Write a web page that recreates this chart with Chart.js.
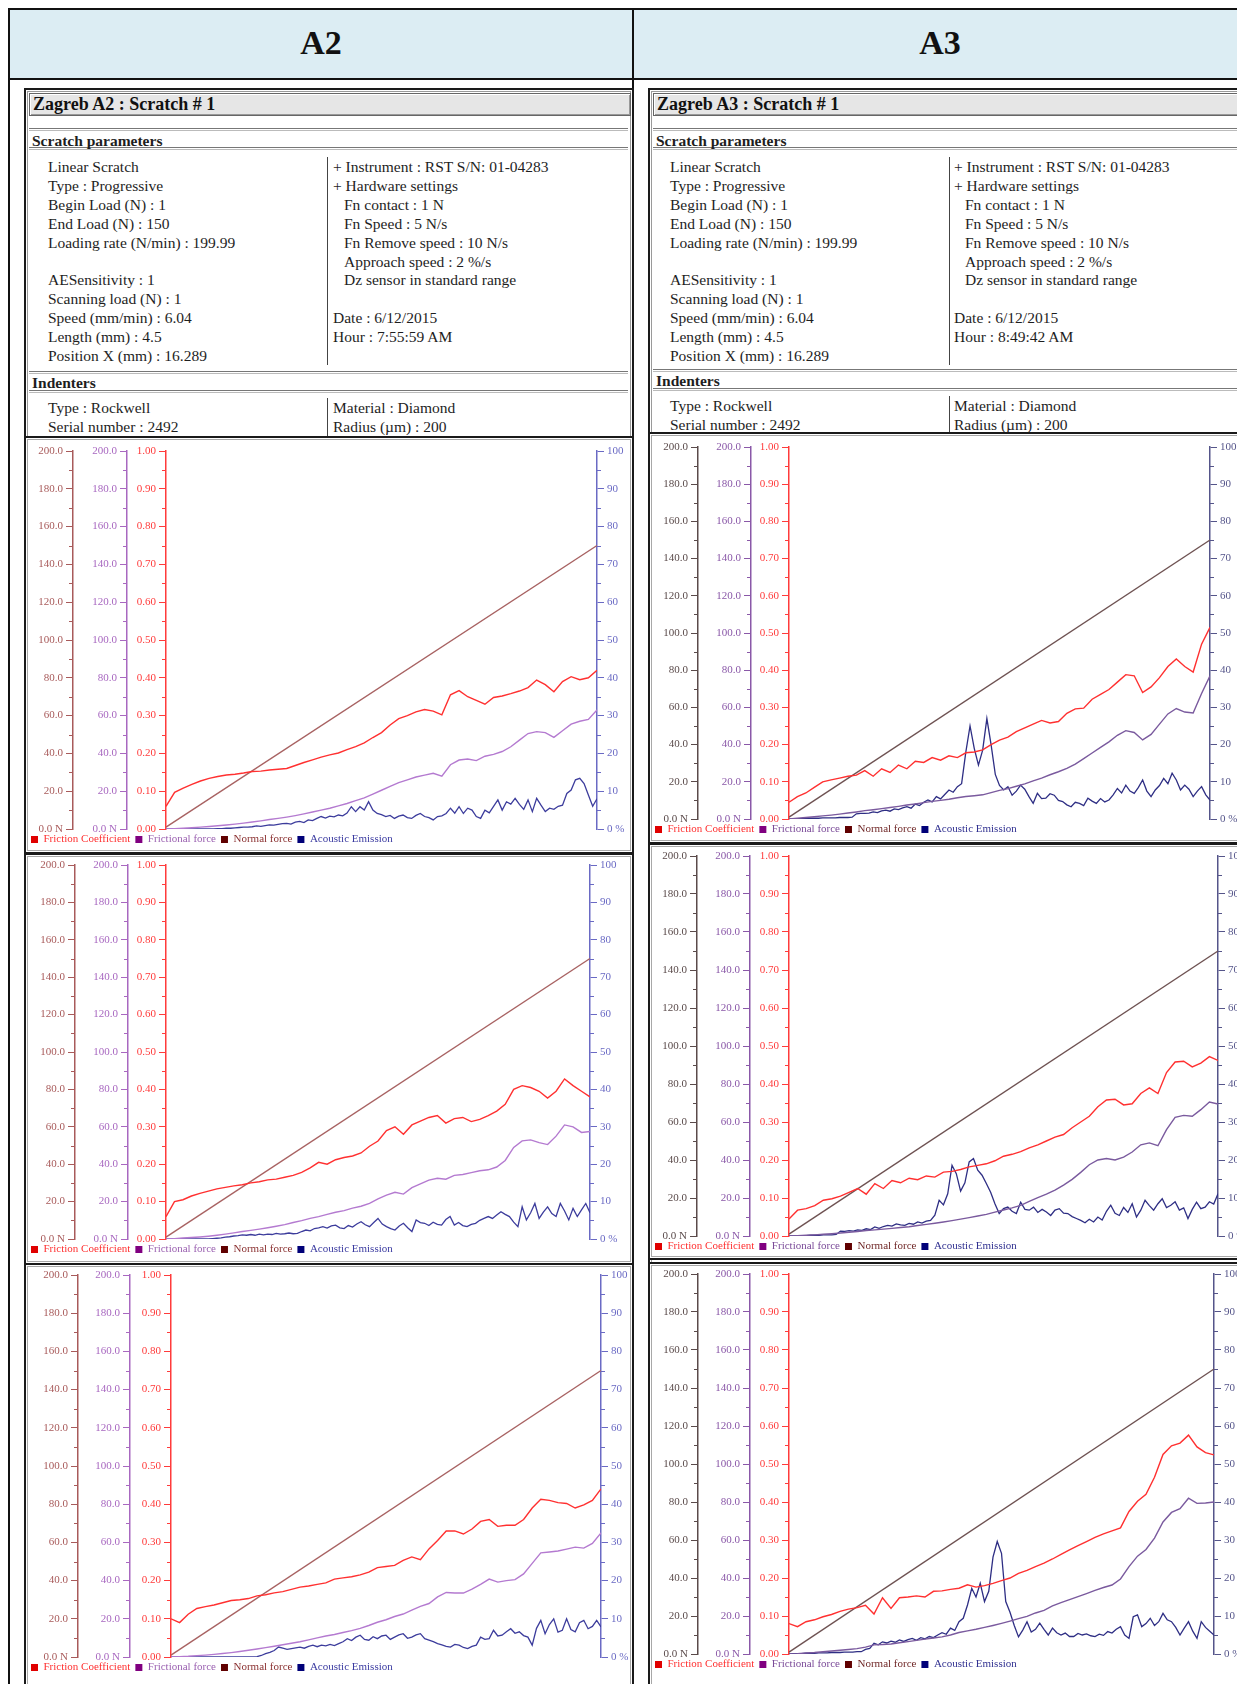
<!DOCTYPE html>
<html>
<head>
<meta charset="utf-8">
<script src="https://cdn.jsdelivr.net/npm/chart.js@4.4.0/dist/chart.umd.min.js"></script>
<style>
html, body { margin: 0; padding: 0; }
body { width: 1237px; height: 1684px; overflow: hidden; position: relative; background: #fff;
  font-family: 'Liberation Serif', 'Times New Roman', serif; color: #1e1e1e; }
#page { position: absolute; left: 0; top: 0; width: 1237px; height: 1684px; overflow: hidden; }
#page div { position: absolute; white-space: nowrap; }
#page canvas { position: absolute; }
</style>
</head>
<body>
<div id="page"></div>
<script>
// scan position along the scratch, % of length
const scanPos = [0,2,4,6,8,10,12,14,16,18,20,22,24,26,28,30,32,34,36,38,40,42,44,46,48,50,52,54,56,58,60,62,64,66,68,70,72,74,76,78,80,82,84,86,88,90,92,94,96,98,100];
const aePos = [0,1,2,3,4,5,6,7,8,9,10,11,12,13,14,15,16,17,18,19,20,21,22,23,24,25,26,27,28,29,30,31,32,33,34,35,36,37,38,39,40,41,42,43,44,45,46,47,48,49,50,51,52,53,54,55,56,57,58,59,60,61,62,63,64,65,66,67,68,69,70,71,72,73,74,75,76,77,78,79,80,81,82,83,84,85,86,87,88,89,90,91,92,93,94,95,96,97,98,99,100];
const loadPos = [0, 100];
const normalLoad = [1, 150];

// A2 scratch 1
const a2Mu1 = [0.06,0.097,0.108,0.118,0.127,0.134,0.139,0.143,0.145,0.148,0.152,0.153,0.156,0.158,0.16,0.168,0.176,0.183,0.19,0.196,0.201,0.21,0.218,0.228,0.242,0.255,0.275,0.292,0.3,0.31,0.316,0.312,0.302,0.355,0.366,0.35,0.34,0.33,0.348,0.352,0.358,0.365,0.374,0.394,0.382,0.363,0.39,0.403,0.395,0.4,0.42];
const a2Ft1 = [0,0.2,0.4,0.7,1.0,1.3,1.7,2.1,2.6,3.1,3.7,4.3,5.0,5.6,6.3,7.1,8.0,9.0,10.0,11.0,12.2,13.5,15.0,16.5,18.5,20.5,22.5,24.5,26.0,27.5,28.5,29.5,28.0,34.0,36.5,37.0,36.2,38.5,39.5,41.0,43.5,47.0,50.5,51.5,51.0,48.5,52.0,55.5,57.0,58.0,63.0];
const a2Ae1 = [0,0,0,0,0,0,0,0,0,0, 0,0,0.1,0.1,0.2,0.2,0.3,0.4,0.5,0.5, 0.6,0.8,0.7,0.9,1.1,1.0,1.2,1.4,1.5,1.3, 1.8,2.0,1.7,2.4,2.2,2.8,3.3,2.9,3.4,3.2, 3.7,3.5,4.2,5.9,4.6,5.9,5.0,7.2,5.0,4.1, 3.8,3.3,3.6,2.8,3.4,3.7,3.0,2.8,3.6,4.1, 3.3,3.0,2.4,3.3,3.5,4.1,5.5,4.2,5.9,4.1, 5.5,5.0,3.3,2.8,5.0,4.3,6.0,7.7,5.0,7.2, 6.6,8.1,6.5,5.2,7.7,4.6,8.1,6.3,4.6,5.5, 5.2,6.0,6.3,9.4,10.3,13.0,13.4,12.0,9.0,6.0, 8.0];

// A2 scratch 2
const a2Mu2 = [0.06,0.1,0.105,0.115,0.122,0.128,0.134,0.138,0.142,0.145,0.15,0.153,0.158,0.16,0.165,0.17,0.178,0.19,0.205,0.2,0.212,0.218,0.222,0.23,0.248,0.262,0.29,0.3,0.28,0.305,0.315,0.325,0.33,0.31,0.322,0.325,0.314,0.32,0.33,0.342,0.36,0.4,0.41,0.405,0.395,0.377,0.395,0.428,0.41,0.395,0.38];
const a2Ft2 = [0,0.2,0.5,0.8,1.1,1.5,2.0,2.6,3.3,4.0,4.6,5.3,6.0,6.8,7.7,8.8,9.8,11.0,12.0,13.2,14.3,15.2,16.5,17.5,19.0,21.5,23.5,25.0,24.0,27.5,29.5,31.5,32.5,32.0,34.0,34.5,35.5,36.5,37.0,38.5,42.0,49.0,52.5,53.0,51.5,50.5,55.0,61.0,60.0,57.0,57.5];
const a2Ae2 = [0,0,0,0,0,0,0,0,0,0, 0,0.1,0.2,0.3,0.5,0.6,0.8,0.9,1.1,1.0, 1.2,1.0,1.3,1.1,1.3,1.2,1.5,1.3,1.4,1.6, 1.4,1.5,2.0,2.4,2.2,2.8,3.0,3.3,2.9,3.5, 3.7,3.0,2.8,3.6,3.2,4.0,4.6,3.8,3.3,4.4, 5.5,4.0,3.3,2.8,2.4,3.5,4.2,3.0,2.0,5.1, 4.4,4.2,3.6,4.5,3.9,3.7,5.2,6.0,3.7,4.4, 3.6,3.3,3.9,4.2,5.0,5.5,6.0,5.5,6.4,7.3, 6.6,6.0,4.5,3.3,8.6,5.1,7.0,9.5,5.5,7.2, 8.6,6.8,6.0,9.5,7.5,5.1,8.2,6.0,7.8,9.5, 7.0];

// A2 scratch 3
const a2Mu3 = [0.1,0.09,0.112,0.127,0.132,0.136,0.142,0.148,0.15,0.153,0.16,0.163,0.168,0.171,0.177,0.183,0.186,0.19,0.194,0.204,0.207,0.21,0.215,0.222,0.234,0.237,0.24,0.253,0.262,0.255,0.283,0.305,0.33,0.33,0.322,0.335,0.355,0.36,0.342,0.345,0.345,0.36,0.39,0.413,0.41,0.404,0.402,0.39,0.398,0.41,0.44];
const a2Ft3 = [0,0.2,0.4,0.7,1.0,1.4,1.8,2.3,2.9,3.5,4.2,4.9,5.6,6.4,7.2,8.0,9.0,10.0,11.0,11.8,12.8,13.8,15.0,16.5,18.2,19.5,21.2,22.5,24.5,26.5,28.0,31.5,33.8,33.5,33.5,35.5,38.0,40.8,39.2,40.0,40.5,43.5,49.0,54.5,55.0,55.5,56.5,57.5,57.0,59.5,65.0];
const a2Ae3 = [0,0,0,0,0,0,0,0,0,0, 0,0,0,0,0,0,0,0,0,0, 0.1,0.4,0.9,1.2,1.7,2.6,2.3,2.0,2.2,2.4, 2.6,2.3,2.8,3.1,2.7,3.1,2.9,3.3,3.0,3.5, 4.0,4.8,4.3,5.2,5.7,4.6,4.4,5.3,4.8,5.5, 5.7,4.6,5.2,5.8,6.1,4.9,5.2,5.8,6.1,4.8, 4.4,4.0,3.5,3.2,2.8,2.6,3.3,3.1,2.5,2.2, 2.8,3.1,5.2,4.6,4.8,7.0,5.5,5.7,6.6,7.4, 6.2,6.6,5.6,5.2,3.1,7.5,9.6,6.1,8.5,10.0, 6.5,7.0,10.0,7.2,6.6,9.0,9.6,7.4,8.0,9.6, 7.9];

// A3 scratch 1
const a3Mu1 = [0.045,0.06,0.07,0.085,0.1,0.105,0.11,0.115,0.118,0.13,0.115,0.135,0.125,0.145,0.135,0.155,0.152,0.165,0.158,0.17,0.165,0.178,0.18,0.186,0.2,0.212,0.22,0.235,0.245,0.255,0.265,0.258,0.262,0.284,0.296,0.298,0.322,0.335,0.348,0.368,0.388,0.385,0.34,0.355,0.38,0.41,0.43,0.41,0.395,0.47,0.515];
const a3Ft1 = [0,0.4,0.8,1.2,1.7,2.1,2.6,3.2,3.8,4.5,5.0,5.6,6.2,6.8,7.5,8.1,8.8,9.5,10.0,10.6,11.4,12.1,12.5,13.0,14.2,15.4,16.3,17.6,18.9,20.5,22.0,23.8,25.4,27.2,29.5,32.5,35.5,38.5,41.5,45.0,47.5,46.5,42.5,45.5,51.0,56.5,59.4,57.5,57.0,67.5,77.0];
const a3Ae1 = [0,0,0.1,0.1,0.1,0.2,0.2,0.2,0.3,0.3, 0.3,0.3,0.4,0.4,0.4,0.5,1.4,1.5,1.5,1.6, 1.9,1.7,2.2,2.4,2.1,2.7,2.5,3.0,3.3,2.9, 4.0,3.6,4.5,5.1,4.6,6.0,5.4,6.6,7.8,7.2, 8.7,9.5,18.0,25.0,19.0,14.5,18.5,27.0,20.0,12.0, 9.0,7.8,8.7,6.4,7.5,9.1,8.0,6.0,4.2,6.9, 5.5,5.6,6.8,6.4,5.0,4.7,3.8,3.3,4.5,4.2, 3.6,5.6,4.8,4.2,5.5,4.6,5.1,6.5,8.2,7.0, 9.1,7.5,6.9,8.5,10.5,7.5,6.0,7.8,9.0,10.9, 9.5,12.3,10.5,7.8,9.1,8.0,6.0,7.5,8.7,6.5, 5.1];

// A3 scratch 2
const a3Mu2 = [0.045,0.068,0.072,0.08,0.094,0.098,0.105,0.115,0.125,0.11,0.138,0.125,0.146,0.14,0.152,0.148,0.158,0.155,0.168,0.17,0.175,0.182,0.186,0.19,0.198,0.21,0.215,0.222,0.232,0.24,0.25,0.26,0.267,0.285,0.3,0.315,0.34,0.358,0.36,0.345,0.348,0.375,0.39,0.375,0.43,0.458,0.46,0.445,0.455,0.472,0.462];
const a3Ft2 = [0,0.2,0.4,0.6,0.9,1.2,1.6,2.0,2.4,2.9,3.2,3.6,4.0,4.5,4.9,5.5,6.1,6.7,7.4,8.1,8.9,9.7,10.5,11.4,12.6,13.7,14.8,16.1,18.2,20.2,22.0,24.2,26.8,29.8,33.5,37.5,40.0,40.8,40.0,41.5,44.2,48.0,49.0,47.5,56.0,62.5,63.5,63.0,66.5,70.5,69.5];
const a3Ae2 = [0,0,0.1,0.1,0.1,0.2,0.2,0.2,0.3,0.3, 0.3,0.4,1.3,1.2,1.4,1.3,1.6,1.5,1.9,1.7, 2.4,2.0,2.5,2.8,2.6,3.2,2.9,2.8,3.3,3.1, 3.7,3.4,3.9,4.1,5.5,9.4,8.2,11.1,18.6,16.4, 11.8,14.0,19.5,20.4,17.3,16.0,13.8,11.5,8.5,5.9, 7.2,7.6,6.5,5.9,8.9,7.0,6.8,7.6,6.2,7.0, 6.3,5.4,6.8,7.2,6.0,5.9,5.1,4.6,4.1,3.5, 4.4,3.7,5.0,4.2,6.5,8.1,6.0,5.4,7.5,6.2, 8.5,5.0,6.8,9.4,8.0,6.8,8.5,9.8,7.5,8.1, 9.0,6.8,7.4,4.6,7.0,8.9,7.2,7.6,9.0,8.4, 11.1];

// A3 scratch 3
const a3Mu3 = [0.08,0.072,0.085,0.09,0.098,0.104,0.112,0.118,0.122,0.128,0.105,0.148,0.12,0.148,0.15,0.153,0.15,0.165,0.166,0.17,0.173,0.182,0.176,0.18,0.186,0.193,0.2,0.212,0.22,0.23,0.239,0.25,0.262,0.274,0.285,0.296,0.307,0.316,0.324,0.332,0.375,0.402,0.42,0.465,0.525,0.548,0.555,0.576,0.545,0.53,0.524];
const a3Ft3 = [0,0.2,0.5,0.8,1.2,1.6,2.0,2.4,2.8,3.6,4.8,5.0,5.3,5.9,6.5,7.2,7.8,8.4,9.0,10.0,11.3,12.2,13.0,14.0,15.0,16.1,17.3,18.6,19.8,21.6,23.0,25.3,27.0,28.6,30.2,31.8,33.5,35.0,36.3,39.5,46.0,51.5,55.0,61.0,69.5,74.5,76.5,82.0,79.3,79.5,80.0];
const a3Ae3 = [0,0.1,0.1,0.1,0.2,0.2,0.2,0.3,0.3,0.3, 0.4,0.4,0.4,0.5,0.5,0.5,0.6,0.6,1.2,1.5, 2.8,2.4,3.2,2.9,3.4,3.1,3.7,3.3,3.8,4.1, 3.6,4.3,4.0,4.6,4.3,5.0,5.6,5.2,6.8,6.2, 8.5,9.4,12.9,17.3,15.0,18.6,13.8,16.5,25.5,29.6, 26.5,13.8,11.0,7.5,4.5,6.3,8.5,5.8,6.5,8.1, 6.5,5.0,6.8,5.6,5.0,5.5,4.6,4.6,5.4,5.0, 5.3,4.8,4.6,5.2,4.9,5.9,5.5,6.5,7.2,5.0, 4.1,9.8,10.3,7.2,8.0,9.4,7.5,8.5,10.7,9.0, 8.5,7.0,5.0,6.8,8.5,6.0,4.1,8.5,7.0,6.0, 5.0];

const legendNames = ['Friction Coefficient', 'Frictional force', 'Normal force', 'Acoustic Emission'];

const paramLines = ['Linear Scratch', 'Type : Progressive', 'Begin Load (N) : 1', 'End Load (N) : 150', 'Loading rate (N/min) : 199.99', '',
  'AESensitivity : 1', 'Scanning load (N) : 1', 'Speed (mm/min) : 6.04', 'Length (mm) : 4.5', 'Position X (mm) : 16.289'];
const hardwareLines = [['+ Instrument : RST S/N: 01-04283', 0], ['+ Hardware settings', 0], ['Fn contact : 1 N', 1], ['Fn Speed : 5 N/s', 1],
  ['Fn Remove speed : 10 N/s', 1], ['Approach speed : 2 %/s', 1], ['Dz sensor in standard range', 1], ['', 0], ['Date : 6/12/2015', 0]];

const page = document.getElementById('page');
function put(css, text) {
  const d = document.createElement('div');
  d.style.cssText = css;
  if (text) d.textContent = text;
  page.appendChild(d);
  return d;
}

// table frame and header row
put('left:8px;top:8px;width:1250px;height:1700px;border:2px solid #111;box-sizing:border-box;');
put('left:10px;top:10px;width:1240px;height:68px;background:#dcedf3;');
put('left:10px;top:78px;width:1240px;height:2px;background:#111;');
put('left:632px;top:8px;width:2px;height:1700px;background:#111;');
put('left:10px;top:23px;width:622px;text-align:center;font-weight:bold;font-size:34px;line-height:40px;color:#111;', 'A2');
put('left:634px;top:23px;width:612px;text-align:center;font-weight:bold;font-size:34px;line-height:40px;color:#111;', 'A3');

function buildPanel(p) {
  put(`left:${p.x}px;top:88px;width:${p.w - 4}px;height:1700px;border:2px solid #1a1a1a;box-shadow:inset 0 0 0 1px #fff, inset 0 0 0 2px #9a9a9a;`);
  put(`left:${p.x + 5}px;top:93px;width:${p.w - 13}px;height:21px;background:#e6e6e6;border:1px solid #666;box-shadow:inset 1px 1px 0 #fff, inset -1px -1px 0 #999;` +
    'font-weight:bold;font-size:18px;line-height:21px;padding-left:3px;color:#111;', p.title);

  const rule = (y) => put(`left:${p.x + 5}px;top:${y}px;width:${p.w - 11}px;height:1px;border-top:1px solid #777;border-bottom:1px solid #bbb;`);
  const text = (x, cy, s, bold) => put(`left:${x}px;top:${cy - 10}px;font-size:15.5px;line-height:19px;${bold ? 'font-weight:bold;' : ''}`, s);

  rule(128); rule(147);
  text(p.x + 8, 141, 'Scratch parameters', true);
  paramLines.forEach((s, i) => { if (s) text(p.c1, 167 + i * 18.9, s); });
  hardwareLines.forEach((h, i) => { if (h[0]) text(h[1] ? p.c2 + 11 : p.c2, 167 + i * 18.9, h[0]); });
  text(p.c2, 167 + 9 * 18.9, 'Hour : ' + p.hour);
  put(`left:${p.sep}px;top:157px;width:1px;height:208px;background:#444;`);

  const d = p.dy;
  rule(371 + d); rule(390 + d);
  text(p.x + 8, 383 + d, 'Indenters', true);
  text(p.c1, 408 + d, 'Type : Rockwell');
  text(p.c1, 427 + d, 'Serial number : 2492');
  text(p.c2, 408 + d, 'Material : Diamond');
  text(p.c2, 427 + d, 'Radius (\u00b5m) : 200');
  put(`left:${p.sep}px;top:${398 + d}px;width:1px;height:40px;background:#444;`);
}

buildPanel({ x: 24, w: 610, title: 'Zagreb A2 : Scratch # 1', hour: '7:55:59 AM', c1: 48, c2: 333, sep: 327, dy: 0 });
buildPanel({ x: 648, w: 640, title: 'Zagreb A3 : Scratch # 1', hour: '8:49:42 AM', c1: 670, c2: 954, sep: 949, dy: -2 });

const paletteA2 = {
  axisN: '#a85a5a', axisF: '#a868c0', axisMu: '#ff3b3b', axisAE: '#6a6ac4',
  lineMu: '#ff3030', lineF: '#b47ad0', lineN: '#a86262', lineAE: '#3c3c9c',
  textF: '#9a60b0', textN: '#8a3030', textAE: '#3a3aa0'
};
const paletteA3 = {
  axisN: '#5a4a4a', axisF: '#8a58a8', axisMu: '#ff3b3b', axisAE: '#55558a',
  lineMu: '#ff3030', lineF: '#7a5a9e', lineN: '#6e5252', lineAE: '#2e2e84',
  textF: '#7a4a98', textN: '#702828', textAE: '#303090'
};

const minorTicks = {
  id: 'minorTicks',
  afterDraw(chart, args, opts) {
    const ctx = chart.ctx;
    ctx.save();
    ctx.lineWidth = 1;
    Object.keys(opts.steps).forEach(id => {
      const s = chart.scales[id];
      const step = opts.steps[id];
      ctx.strokeStyle = opts.colors[id];
      ctx.beginPath();
      for (let v = step; v < s.max; v += step * 2) {
        const y = Math.round(s.getPixelForValue(v)) + 0.5;
        if (s.position === 'left') { ctx.moveTo(s.right - 4, y); ctx.lineTo(s.right, y); }
        else { ctx.moveTo(s.left, y); ctx.lineTo(s.left + 4, y); }
      }
      ctx.stroke();
    });
    ctx.restore();
  }
};

Chart.defaults.font.family = "'Liberation Serif', 'Times New Roman', serif";
const tickFont = { size: 11 };

function pairs(xs, ys) { return xs.map((x, i) => ({ x: x, y: ys[i] })); }

function yAxis(pos, weight, color, min, max, step, fmt, width) {
  return {
    position: pos, weight: weight, min: min, max: max,
    ticks: { stepSize: step, color: color, font: tickFont, padding: 3, callback: fmt },
    grid: { drawOnChartArea: false, color: color, tickLength: 7, lineWidth: 1 },
    border: { color: color, width: 1.5 },
    afterFit: (s) => { s.width = width; }
  };
}

function makeChart(spec, mu, ft, ae, pal) {
  const f = spec.frame;
  put(`left:${f.x}px;top:${f.y}px;width:${f.w - 4}px;height:${f.h - 4}px;border:2px solid #1a1a1a;background:#fff;box-shadow:inset 0 0 0 1px #fff, inset 0 0 0 2px #a8a8a8;`);
  const cx = f.x + 2, cy = f.y + 2, cw = f.w - 4, ch = f.h - 4;
  const cv = document.createElement('canvas');
  cv.width = cw; cv.height = ch;
  cv.style.left = cx + 'px'; cv.style.top = cy + 'px';
  page.appendChild(cv);

  const a = spec.axes;
  const below = cy + ch - spec.bottom;
  const legendH = Math.min(26, below);

  new Chart(cv, {
    type: 'line',
    data: {
      datasets: [
        { label: legendNames[0], data: pairs(scanPos, mu), yAxisID: 'yMu', borderColor: pal.lineMu, borderWidth: 1.4, pointRadius: 0, tension: 0 },
        { label: legendNames[1], data: pairs(scanPos, ft), yAxisID: 'yF', borderColor: pal.lineF, borderWidth: 1.4, pointRadius: 0, tension: 0 },
        { label: legendNames[2], data: pairs(loadPos, normalLoad), yAxisID: 'yN', borderColor: pal.lineN, borderWidth: 1.4, pointRadius: 0, tension: 0 },
        { label: legendNames[3], data: pairs(aePos, ae), yAxisID: 'yAE', borderColor: pal.lineAE, borderWidth: 1.3, pointRadius: 0, tension: 0 }
      ]
    },
    options: {
      responsive: false,
      animation: false,
      layout: { padding: { top: spec.top - cy, bottom: below - legendH, left: 0, right: 0 } },
      plugins: {
        tooltip: { enabled: false },
        legend: {
          position: 'bottom', align: 'start', maxHeight: legendH,
          labels: {
            boxWidth: 7, boxHeight: 7, padding: 5, font: { size: 11 },
            generateLabels: () => [
              { text: legendNames[0], fillStyle: '#e00000', strokeStyle: '#e00000', lineWidth: 0, fontColor: '#ff3030', datasetIndex: 0 },
              { text: legendNames[1], fillStyle: '#800080', strokeStyle: '#800080', lineWidth: 0, fontColor: pal.textF, datasetIndex: 1 },
              { text: legendNames[2], fillStyle: '#600000', strokeStyle: '#600000', lineWidth: 0, fontColor: pal.textN, datasetIndex: 2 },
              { text: legendNames[3], fillStyle: '#000078', strokeStyle: '#000078', lineWidth: 0, fontColor: pal.textAE, datasetIndex: 3 }
            ]
          }
        },
        minorTicks: {
          steps: { yN: 10, yF: 10, yMu: 0.05, yAE: 5 },
          colors: { yN: pal.axisN, yF: pal.axisF, yMu: pal.axisMu, yAE: pal.axisAE }
        }
      },
      scales: {
        x: { type: 'linear', min: 0, max: 100, display: false },
        yN: yAxis('left', 3, pal.axisN, 0, 200, 20, v => v === 0 ? '0.0 N' : v.toFixed(1), a[0] - cx),
        yF: yAxis('left', 2, pal.axisF, 0, 200, 20, v => v === 0 ? '0.0 N' : v.toFixed(1), a[1] - a[0]),
        yMu: yAxis('left', 1, pal.axisMu, 0, 1, 0.1, v => v.toFixed(2), a[2] - a[1]),
        yAE: yAxis('right', 1, pal.axisAE, 0, 100, 10, v => v === 0 ? '0 %' : String(Math.round(v)), cx + cw - a[3])
      }
    },
    plugins: [minorTicks]
  });
}

makeChart({ frame: { x: 24, y: 436, w: 610, h: 418 }, top: 451, bottom: 829, axes: [73, 127, 166, 597] }, a2Mu1, a2Ft1, a2Ae1, paletteA2);
makeChart({ frame: { x: 24, y: 853, w: 610, h: 412 }, top: 865, bottom: 1239, axes: [75, 128, 166, 590] }, a2Mu2, a2Ft2, a2Ae2, paletteA2);
makeChart({ frame: { x: 24, y: 1263, w: 610, h: 425 }, top: 1275, bottom: 1657, axes: [78, 130, 171, 601] }, a2Mu3, a2Ft3, a2Ae3, paletteA2);
makeChart({ frame: { x: 648, y: 432, w: 600, h: 412 }, top: 447, bottom: 819, axes: [698, 751, 789, 1210] }, a3Mu1, a3Ft1, a3Ae1, paletteA3);
makeChart({ frame: { x: 648, y: 843, w: 600, h: 417 }, top: 856, bottom: 1236, axes: [697, 750, 789, 1218] }, a3Mu2, a3Ft2, a3Ae2, paletteA3);
makeChart({ frame: { x: 648, y: 1262, w: 600, h: 426 }, top: 1274, bottom: 1654, axes: [698, 750, 789, 1214] }, a3Mu3, a3Ft3, a3Ae3, paletteA3);
</script>
</body>
</html>
